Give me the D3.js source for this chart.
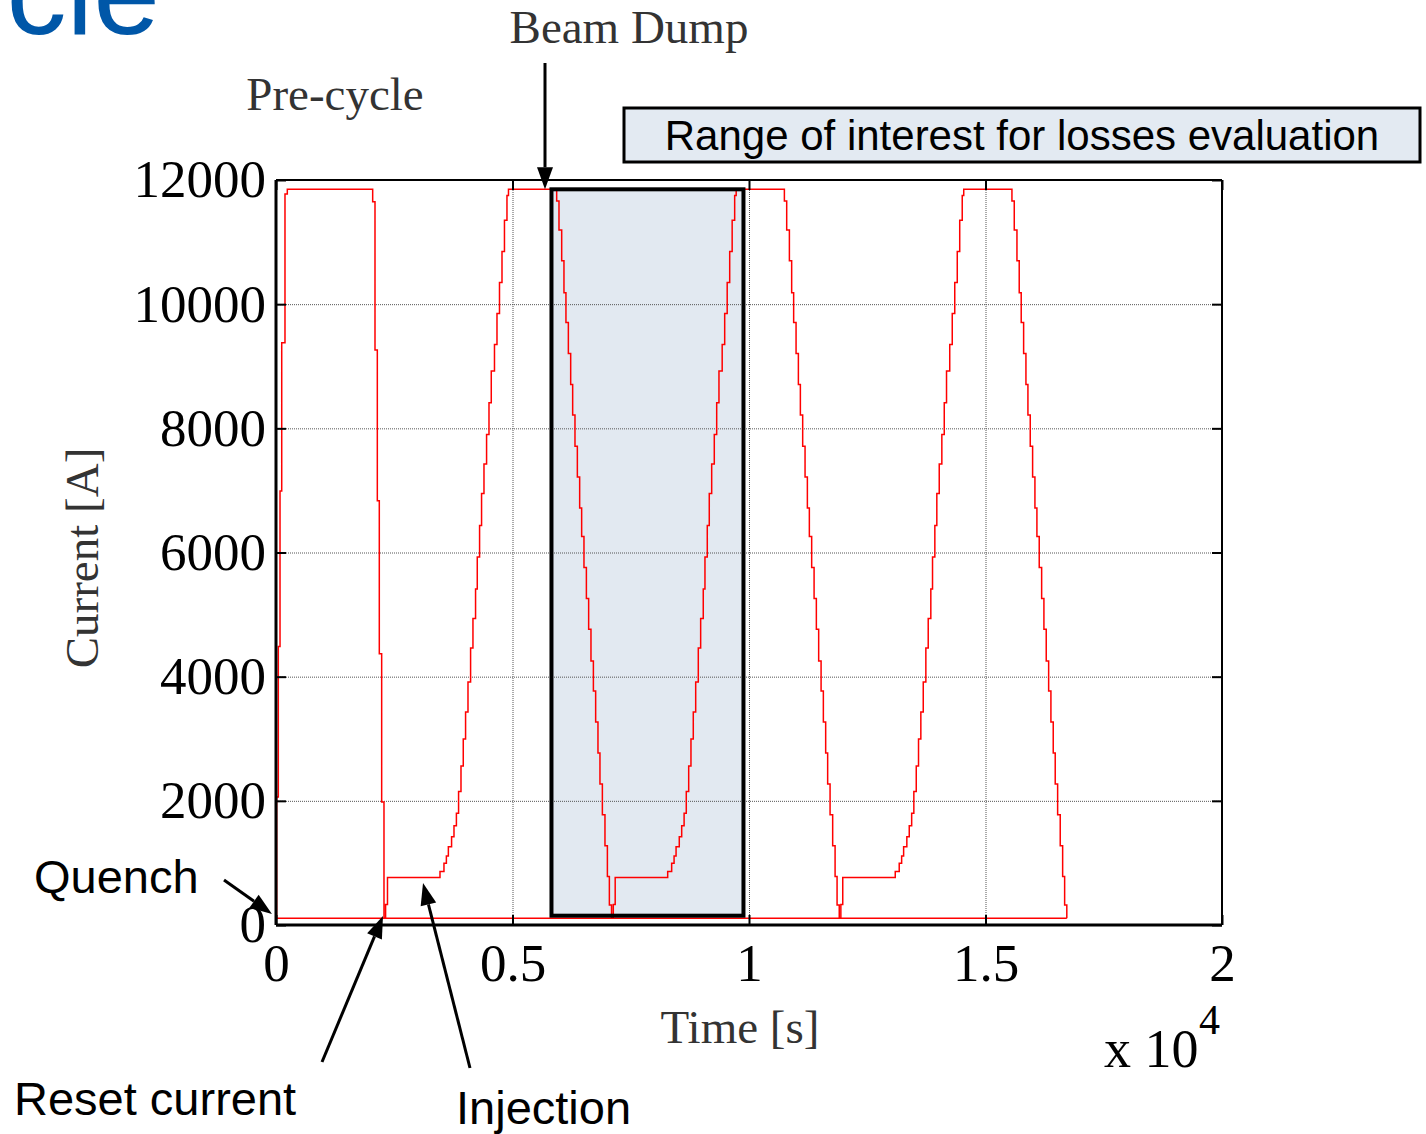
<!DOCTYPE html>
<html>
  <head>
    <title>Current cycle</title>
    <script src="https://d3js.org/d3.v7.min.js"></script>
    <style type="text/css">
      body {
        margin: 0;
        background: #ffffff;
      }

      svg {
        display: block;
      }

      .serif {
        font-family: 'Liberation Serif', 'Times New Roman', serif;
      }

      .sans {
        font-family: 'Liberation Sans', Arial, sans-serif;
      }
    </style>
  </head>

  <body>
    <div class="chart"></div>
    <script type="text/javascript">
      // pre-cycle, time [s] and current [A]
      var preCycleTime = [0, 14, 49, 85, 121, 190, 239, 2044, 2093, 2142, 2184, 2234];
      var preCycleCurrent = [110, 2060, 4486, 6990, 9380, 11775, 11850, 11650, 9260, 6835, 4370, 1980];

      // one cycle, time counted from the reset point
      var cycleTime = [0, 34, 74, 1184, 1268, 1319, 1361, 1429, 1480, 1531, 1577, 1628, 1676, 1725,
        1776, 1831, 1881, 1936, 1972, 2021, 2063, 2114, 2169, 2220, 2268, 2336, 2389, 2442, 2495,
        2547, 2600, 2632, 3651, 3700, 3757, 3805, 3847, 3898, 3947, 3989, 4038, 4088, 4137, 4179,
        4228, 4279, 4327, 4376, 4427, 4475, 4524, 4566, 4617, 4672, 4723, 4765, 4811];
      var cycleCurrent = [110, 330, 765, 860, 994, 1111, 1262, 1423, 1600, 1800, 2150, 2560, 2996, 3431,
        3914, 4462, 4936, 5412, 5928, 6435, 6949, 7426, 7901, 8413, 8924, 9350, 9850, 10350, 10850,
        11350, 11750, 11850, 11660, 11195, 10700, 10185, 9703, 9204, 8707, 8215, 7711, 7216, 6717, 6256,
        5758, 5261, 4762, 4253, 3770, 3270, 2770, 2271, 1775, 1276, 780, 322, 110];

      var cycleStarts = [2283, 7097, 11908];
      var resetCurrent = 110;

      var xTicks = [0, 5000, 10000, 15000, 20000];
      var xTickLabels = ['0', '0.5', '1', '1.5', '2'];
      var yTicks = [0, 2000, 4000, 6000, 8000, 10000, 12000];

      // range of interest for losses evaluation
      var rangeTime = [5824, 9883];
      var rangeCurrent = [150, 11850];

      var annotations = [
        {text: 'Quench', x: 34, y: 893, tipT: -85, tipI: 177, tailX: 224, tailY: 880},
        {text: 'Reset current', x: 14, y: 1115, tipT: 2262, tipI: 145, tailX: 322, tailY: 1062},
        {text: 'Injection', x: 456, y: 1124, tipT: 3108, tipI: 676, tailX: 470, tailY: 1068},
        {text: '', x: 0, y: 0, tipT: 5687, tipI: 11850, tailX: 545, tailY: 63}
      ];

      var width = 1426;
      var height = 1134;

      var x = d3.scaleLinear().domain([0, 20000]).range([276, 1222]);
      var y = d3.scaleLinear().domain([0, 12000]).range([925, 180]);

      var svg = d3.select('.chart').append('svg')
        .attr('width', width)
        .attr('height', height);

      svg.append('rect')
        .attr('width', width)
        .attr('height', height)
        .attr('fill', '#ffffff');

      // slide title, cut by the top edge as on the slide
      svg.append('text')
        .attr('class', 'sans')
        .attr('x', 160)
        .attr('y', 34)
        .attr('text-anchor', 'end')
        .attr('font-size', 120)
        .attr('fill', '#0057a8')
        .text('cle');

      // shaded range
      svg.append('rect')
        .attr('x', x(rangeTime[0]))
        .attr('y', y(rangeCurrent[1]))
        .attr('width', x(rangeTime[1]) - x(rangeTime[0]))
        .attr('height', y(rangeCurrent[0]) - y(rangeCurrent[1]))
        .attr('fill', '#e2e9f1');

      // grid
      var grid = svg.append('g')
        .attr('stroke', '#555555')
        .attr('stroke-width', 1)
        .attr('stroke-dasharray', '1,1');

      grid.selectAll('.gy')
        .data(yTicks.slice(1, -1))
        .enter()
        .append('line')
          .attr('x1', x(0))
          .attr('x2', x(20000))
          .attr('y1', function(d){return y(d) + 0.5})
          .attr('y2', function(d){return y(d) + 0.5});

      grid.selectAll('.gx')
        .data(xTicks.slice(1, -1))
        .enter()
        .append('line')
          .attr('x1', function(d){return x(d) + 0.5})
          .attr('x2', function(d){return x(d) + 0.5})
          .attr('y1', y(12000))
          .attr('y2', y(0));

      // current curve
      var points = preCycleTime.map(function(t, i){return [t, preCycleCurrent[i]];});
      cycleStarts.forEach(function(s){
        cycleTime.forEach(function(t, i){
          points.push([s + t, cycleCurrent[i]]);
        });
      });

      var line = d3.line()
        .x(function(d){return x(d[0])})
        .y(function(d){return y(d[1])})
        .curve(d3.curveStepAfter);

      svg.append('path')
        .datum(points)
        .attr('d', line)
        .attr('fill', 'none')
        .attr('stroke', '#ff0000')
        .attr('stroke-width', 1.5);

      svg.append('path')
        .datum([[0, resetCurrent], [points[points.length - 1][0], resetCurrent]])
        .attr('d', d3.line().x(function(d){return x(d[0])}).y(function(d){return y(d[1])}))
        .attr('fill', 'none')
        .attr('stroke', '#ff0000')
        .attr('stroke-width', 1.5);

      // range border
      svg.append('rect')
        .attr('x', x(rangeTime[0]))
        .attr('y', y(rangeCurrent[1]))
        .attr('width', x(rangeTime[1]) - x(rangeTime[0]))
        .attr('height', y(rangeCurrent[0]) - y(rangeCurrent[1]))
        .attr('fill', 'none')
        .attr('stroke', '#000000')
        .attr('stroke-width', 4);

      // axes
      var xAxis = d3.axisBottom(x)
        .tickValues(xTicks)
        .tickFormat(function(d, i){return xTickLabels[i]})
        .tickSizeInner(-10)
        .tickSizeOuter(0)
        .tickPadding(18);

      var yAxis = d3.axisLeft(y)
        .tickValues(yTicks)
        .tickFormat(d3.format('d'))
        .tickSizeInner(-10)
        .tickSizeOuter(0)
        .tickPadding(10);

      var gx = svg.append('g')
        .attr('transform', 'translate(0,' + y(0) + ')')
        .call(xAxis);

      var gy = svg.append('g')
        .attr('transform', 'translate(' + x(0) + ',0)')
        .call(yAxis);

      svg.append('g')
        .attr('transform', 'translate(' + x(20000) + ',0)')
        .call(d3.axisRight(y).tickValues(yTicks).tickSizeInner(-10).tickSizeOuter(0).tickFormat(''));

      svg.append('g')
        .attr('transform', 'translate(0,' + y(12000) + ')')
        .call(d3.axisTop(x).tickValues(xTicks).tickSizeInner(-10).tickSizeOuter(0).tickFormat(''));

      svg.selectAll('.domain').remove();
      svg.selectAll('.tick line')
        .attr('stroke', '#000000')
        .attr('stroke-width', 2);

      [gx, gy].forEach(function(g){
        g.selectAll('text')
          .attr('class', 'serif')
          .attr('font-size', 53)
          .attr('fill', '#000000');
      });

      // frame
      var frame = svg.append('g').attr('stroke', '#000000');
      frame.append('line').attr('x1', x(0)).attr('x2', x(20000)).attr('y1', y(0)).attr('y2', y(0)).attr('stroke-width', 3);
      frame.append('line').attr('x1', x(0)).attr('x2', x(0)).attr('y1', y(0)).attr('y2', y(12000)).attr('stroke-width', 3);
      frame.append('line').attr('x1', x(0)).attr('x2', x(20000)).attr('y1', y(12000)).attr('y2', y(12000)).attr('stroke-width', 2);
      frame.append('line').attr('x1', x(20000)).attr('x2', x(20000)).attr('y1', y(0)).attr('y2', y(12000)).attr('stroke-width', 2);

      // axis titles
      svg.append('text')
        .attr('class', 'serif')
        .attr('x', 740)
        .attr('y', 1043)
        .attr('text-anchor', 'middle')
        .attr('font-size', 47)
        .attr('fill', '#333333')
        .text('Time [s]');

      svg.append('text')
        .attr('class', 'serif')
        .attr('transform', 'translate(98,558) rotate(-90)')
        .attr('text-anchor', 'middle')
        .attr('font-size', 47)
        .attr('fill', '#333333')
        .text('Current [A]');

      var expo = svg.append('text')
        .attr('class', 'serif')
        .attr('x', 1104)
        .attr('y', 1067)
        .attr('font-size', 54)
        .attr('fill', '#000000');
      expo.append('tspan').text('x 10');
      expo.append('tspan')
        .attr('x', 1199)
        .attr('y', 1034)
        .attr('font-size', 42)
        .text('4');

      svg.append('text')
        .attr('class', 'serif')
        .attr('x', 629)
        .attr('y', 43)
        .attr('text-anchor', 'middle')
        .attr('font-size', 47)
        .attr('fill', '#333333')
        .text('Beam Dump');

      svg.append('text')
        .attr('class', 'serif')
        .attr('x', 335)
        .attr('y', 110)
        .attr('text-anchor', 'middle')
        .attr('font-size', 47)
        .attr('fill', '#333333')
        .text('Pre-cycle');

      // label box
      svg.append('rect')
        .attr('x', 624)
        .attr('y', 108)
        .attr('width', 796)
        .attr('height', 54)
        .attr('fill', '#e3eaf2')
        .attr('stroke', '#000000')
        .attr('stroke-width', 3);

      svg.append('text')
        .attr('class', 'sans')
        .attr('x', 1022)
        .attr('y', 150)
        .attr('text-anchor', 'middle')
        .attr('font-size', 42)
        .attr('fill', '#000000')
        .text('Range of interest for losses evaluation');

      // arrows
      function drawArrow (x1, y1, x2, y2) {
        var dx = x2 - x1;
        var dy = y2 - y1;
        var len = Math.sqrt(dx * dx + dy * dy);
        var ux = dx / len;
        var uy = dy / len;
        var headLen = 22;
        var headHalf = 8;
        var bx = x2 - ux * headLen;
        var by = y2 - uy * headLen;

        svg.append('line')
          .attr('x1', x1)
          .attr('y1', y1)
          .attr('x2', bx)
          .attr('y2', by)
          .attr('stroke', '#000000')
          .attr('stroke-width', 3);

        svg.append('path')
          .attr('d', 'M' + x2 + ',' + y2 +
            'L' + (bx - uy * headHalf) + ',' + (by + ux * headHalf) +
            'L' + (bx + uy * headHalf) + ',' + (by - ux * headHalf) + 'Z')
          .attr('fill', '#000000');
      }

      annotations.forEach(function(a){
        drawArrow(a.tailX, a.tailY, x(a.tipT), y(a.tipI));
        if (a.text) {
          svg.append('text')
            .attr('class', 'sans')
            .attr('x', a.x)
            .attr('y', a.y)
            .attr('font-size', 47)
            .attr('fill', '#000000')
            .text(a.text);
        }
      });
    </script>
  </body>
</html>
